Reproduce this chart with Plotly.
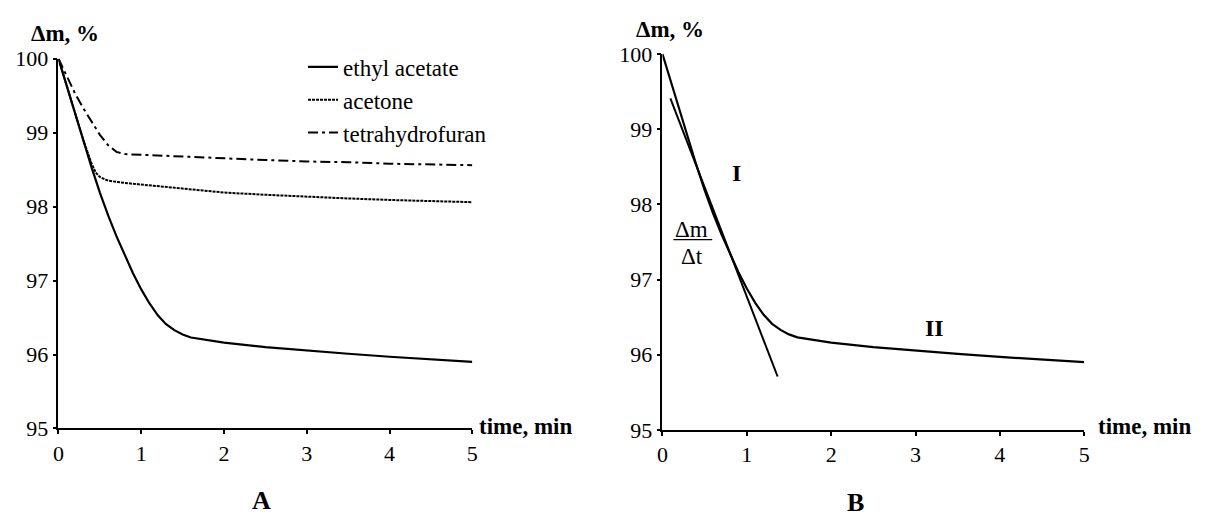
import plotly.graph_objects as go

# ---- data ----
time_ea = [0, 0.1, 0.2, 0.3, 0.4, 0.5, 0.6, 0.7, 0.8, 0.9, 1.0, 1.1, 1.2, 1.3, 1.4,
           1.5, 1.6, 1.8, 2.0, 2.5, 3.0, 3.5, 4.0, 4.5, 5.0]
ethyl_acetate = [100, 99.63, 99.26, 98.89, 98.53, 98.19, 97.88, 97.60, 97.34, 97.10,
                 96.88, 96.69, 96.53, 96.41, 96.33, 96.27, 96.23, 96.19, 96.16, 96.10,
                 96.05, 96.01, 95.97, 95.93, 95.90]

time_ac = [0, 0.1, 0.2, 0.3, 0.4, 0.45, 0.5, 0.6, 0.8, 1.0, 1.5, 2.0, 2.5, 3.0, 3.5,
           4.0, 4.5, 5.0]
acetone = [100, 99.63, 99.26, 98.90, 98.58, 98.46, 98.40, 98.35, 98.32, 98.30, 98.24,
           98.19, 98.16, 98.13, 98.11, 98.09, 98.07, 98.06]

time_thf = [0, 0.1, 0.2, 0.3, 0.4, 0.5, 0.6, 0.7, 0.8, 1.0, 1.5, 2.0, 2.5, 3.0, 3.5,
            4.0, 4.5, 5.0]
thf = [100, 99.76, 99.53, 99.33, 99.15, 98.97, 98.83, 98.74, 98.71, 98.70, 98.67,
       98.65, 98.63, 98.61, 98.60, 98.58, 98.57, 98.56]

tangent_t = [0.094, 1.365]
tangent_m = [99.41, 95.71]

x_ticks = [0, 1, 2, 3, 4, 5]
y_ticks = [95, 96, 97, 98, 99, 100]

FONT = "'Liberation Serif', 'Times New Roman', serif"
W, H = 1213, 532

fig = go.Figure()

fig.add_trace(go.Scatter(x=time_ea, y=ethyl_acetate, name="ethyl acetate", mode="lines",
                         line=dict(color="black", width=2.2), xaxis="x", yaxis="y"))
fig.add_trace(go.Scatter(x=time_ac, y=acetone, name="acetone", mode="lines",
                         line=dict(color="black", width=2, dash="3px,1px"), xaxis="x", yaxis="y"))
fig.add_trace(go.Scatter(x=time_thf, y=thf, name="tetrahydrofuran", mode="lines",
                         line=dict(color="black", width=2, dash="10px,4px,3px,4px"),
                         xaxis="x", yaxis="y"))

fig.add_trace(go.Scatter(x=time_ea, y=ethyl_acetate, mode="lines", showlegend=False,
                         line=dict(color="black", width=2.2), xaxis="x2", yaxis="y2"))
fig.add_trace(go.Scatter(x=tangent_t, y=tangent_m, mode="lines", showlegend=False,
                         line=dict(color="black", width=2), xaxis="x2", yaxis="y2"))

axis_common = dict(showline=True, linecolor="black", linewidth=1.5, ticks="outside",
                   ticklen=4, tickwidth=1.5, tickcolor="black", showgrid=False,
                   zeroline=False, tickfont=dict(family=FONT, size=22, color="black"),
                   fixedrange=True)

fig.update_layout(
    width=W, height=H,
    margin=dict(l=0, r=0, t=0, b=0),
    paper_bgcolor="white", plot_bgcolor="white",
    font=dict(family=FONT, color="black"),
    xaxis=dict(domain=[53 / W, 471 / W], range=[0, 5], tickvals=x_ticks,
               anchor="y", **axis_common),
    yaxis=dict(domain=[(H - 437) / H, (H - 49) / H], range=[95, 100], tickvals=y_ticks,
               anchor="x", **axis_common),
    xaxis2=dict(domain=[663 / W, 1089 / W], range=[0, 5], tickvals=x_ticks,
                anchor="y2", **axis_common),
    yaxis2=dict(domain=[(H - 438.5) / H, (H - 44) / H], range=[95, 100], tickvals=y_ticks,
                anchor="x2", **axis_common),
    legend=dict(x=300 / W, y=(H - 35) / H, xanchor="left", yanchor="top",
                font=dict(family=FONT, size=23, color="black"),
                bgcolor="rgba(0,0,0,0)", itemwidth=30, tracegroupgap=0),
    showlegend=True,
)

bold = dict(family=FONT, size=23, color="black")
ann = [
    dict(text="<b>Δm, %</b>", x=60, y=23, font=bold),
    dict(text="<b>Δm, %</b>", x=671, y=18, font=bold),
    dict(text="<b>time, min</b>", x=476, y=435, font=bold, xanchor="left"),
    dict(text="<b>time, min</b>", x=1101, y=435, font=bold, xanchor="left"),
    dict(text="<b>A</b>", x=258, y=513, font=dict(family=FONT, size=26, color="black")),
    dict(text="<b>B</b>", x=858, y=515, font=dict(family=FONT, size=26, color="black")),
]
annotations = []
for a in ann:
    annotations.append(dict(text=a["text"], x=a["x"] / W, y=(H - a["y"]) / H,
                            xref="paper", yref="paper", showarrow=False,
                            xanchor=a.get("xanchor", "center"), yanchor="middle",
                            font=a["font"]))
# panel B labels in data coordinates
annotations += [
    dict(text="<b>I</b>", x=0.88, y=98.42, xref="x2", yref="y2", showarrow=False,
         font=dict(family=FONT, size=24, color="black")),
    dict(text="<b>II</b>", x=3.23, y=96.35, xref="x2", yref="y2", showarrow=False,
         font=dict(family=FONT, size=24, color="black")),
    dict(text="Δm", x=0.35, y=97.66, xref="x2", yref="y2", showarrow=False,
         font=dict(family=FONT, size=23, color="black")),
    dict(text="Δt", x=0.35, y=97.30, xref="x2", yref="y2", showarrow=False,
         font=dict(family=FONT, size=23, color="black")),
]
fig.update_layout(annotations=annotations)
fig.add_shape(type="line", x0=0.13, x1=0.59, y0=97.53, y1=97.53, xref="x2", yref="y2",
              line=dict(color="black", width=1.3))

fig.write_html("out.html")
